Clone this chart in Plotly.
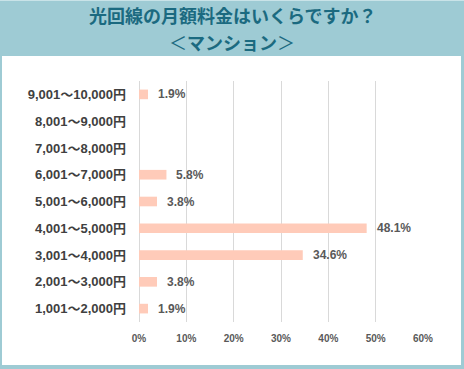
import plotly.graph_objects as go

categories = ["1,001〜2,000円", "2,001〜3,000円", "3,001〜4,000円", "4,001〜5,000円",
              "5,001〜6,000円", "6,001〜7,000円", "7,001〜8,000円", "8,001〜9,000円",
              "9,001〜10,000円"]
values = [1.9, 3.8, 34.6, 48.1, 3.8, 5.8, None, None, 1.9]
x_ticks = [0, 10, 20, 30, 40, 50, 60]
x_tick_labels = ["0%", "10%", "20%", "30%", "40%", "50%", "60%"]
title_line1 = "光回線の月額料金はいくらですか？"
title_line2 = "マンション"

W, H = 464, 369
L, R, T, B = 139, 41, 81, 47
PW, PH = W - L - R, H - T - B

def px(x):
    return (x - L) / PW

def py(y):
    return 1 - (y - T) / PH

TEAL = "#9ecbd4"
TITLE_COLOR = "#1b6a80"
BAR = "#ffcbb9"
GRID = "#d9d9d9"
NUMFONT = "Liberation Sans, Arial, Noto Sans CJK JP"

fig = go.Figure()
fig.add_trace(go.Bar(
    x=values, y=categories, orientation="h",
    marker=dict(color=BAR, line=dict(width=0)),
    hoverinfo="skip",
))

annotations = []
for c, v in zip(categories, values):
    if v is None:
        continue
    annotations.append(dict(
        x=v, y=c, xref="x", yref="y", text=f"<b>{v:.1f}%</b>",
        showarrow=False, xanchor="left", xshift=8,
        font=dict(family=NUMFONT, size=12, color="#595959"),
    ))

annotations.append(dict(
    x=px(W / 2), xref="paper", y=py(15), yref="paper", xanchor="center", yanchor="middle",
    text=f"<b>{title_line1}</b>", showarrow=False,
    font=dict(family="Noto Sans CJK JP", size=18, color=TITLE_COLOR),
))
annotations.append(dict(
    x=px(W / 2), xref="paper", y=py(42), yref="paper", xanchor="center", yanchor="middle",
    text=f"＜<b>{title_line2}</b>＞", showarrow=False,
    font=dict(family="Noto Sans CJK JP", size=18, color=TITLE_COLOR),
))

shapes = [
    dict(type="rect", xref="paper", yref="paper",
         x0=px(2), x1=px(W - 3), y0=py(56), y1=py(H - 4),
         fillcolor="white", line=dict(width=0), layer="below"),
    dict(type="rect", xref="paper", yref="paper",
         x0=px(0), x1=px(W), y0=py(0), y1=py(1),
         fillcolor="#c9e3e8", line=dict(width=0), layer="below"),
]

fig.update_layout(
    width=W, height=H,
    margin=dict(l=L, r=R, t=T, b=B, pad=0),
    paper_bgcolor=TEAL,
    plot_bgcolor="rgba(0,0,0,0)",
    showlegend=False,
    bargap=0.64,
    shapes=shapes,
    annotations=annotations,
    xaxis=dict(
        range=[0, 60], tickvals=x_ticks, ticktext=x_tick_labels,
        showgrid=True, gridcolor=GRID, gridwidth=1,
        zeroline=True, zerolinecolor=GRID, zerolinewidth=1,
        showline=False, ticks="", ticklabelstandoff=9,
        tickfont=dict(family=NUMFONT, size=10, color="#595959", weight="bold"),
        fixedrange=True,
    ),
    yaxis=dict(
        categoryorder="array", categoryarray=categories,
        showgrid=False, zeroline=False, showline=False, ticks="",
        ticklabelstandoff=12,
        tickfont=dict(family=NUMFONT, size=13, color="#404040", weight="bold"),
        fixedrange=True,
    ),
)

fig.write_html("out.html", config={"displayModeBar": False},
               post_script="document.body.style.margin='0';document.body.style.overflow='hidden';")
